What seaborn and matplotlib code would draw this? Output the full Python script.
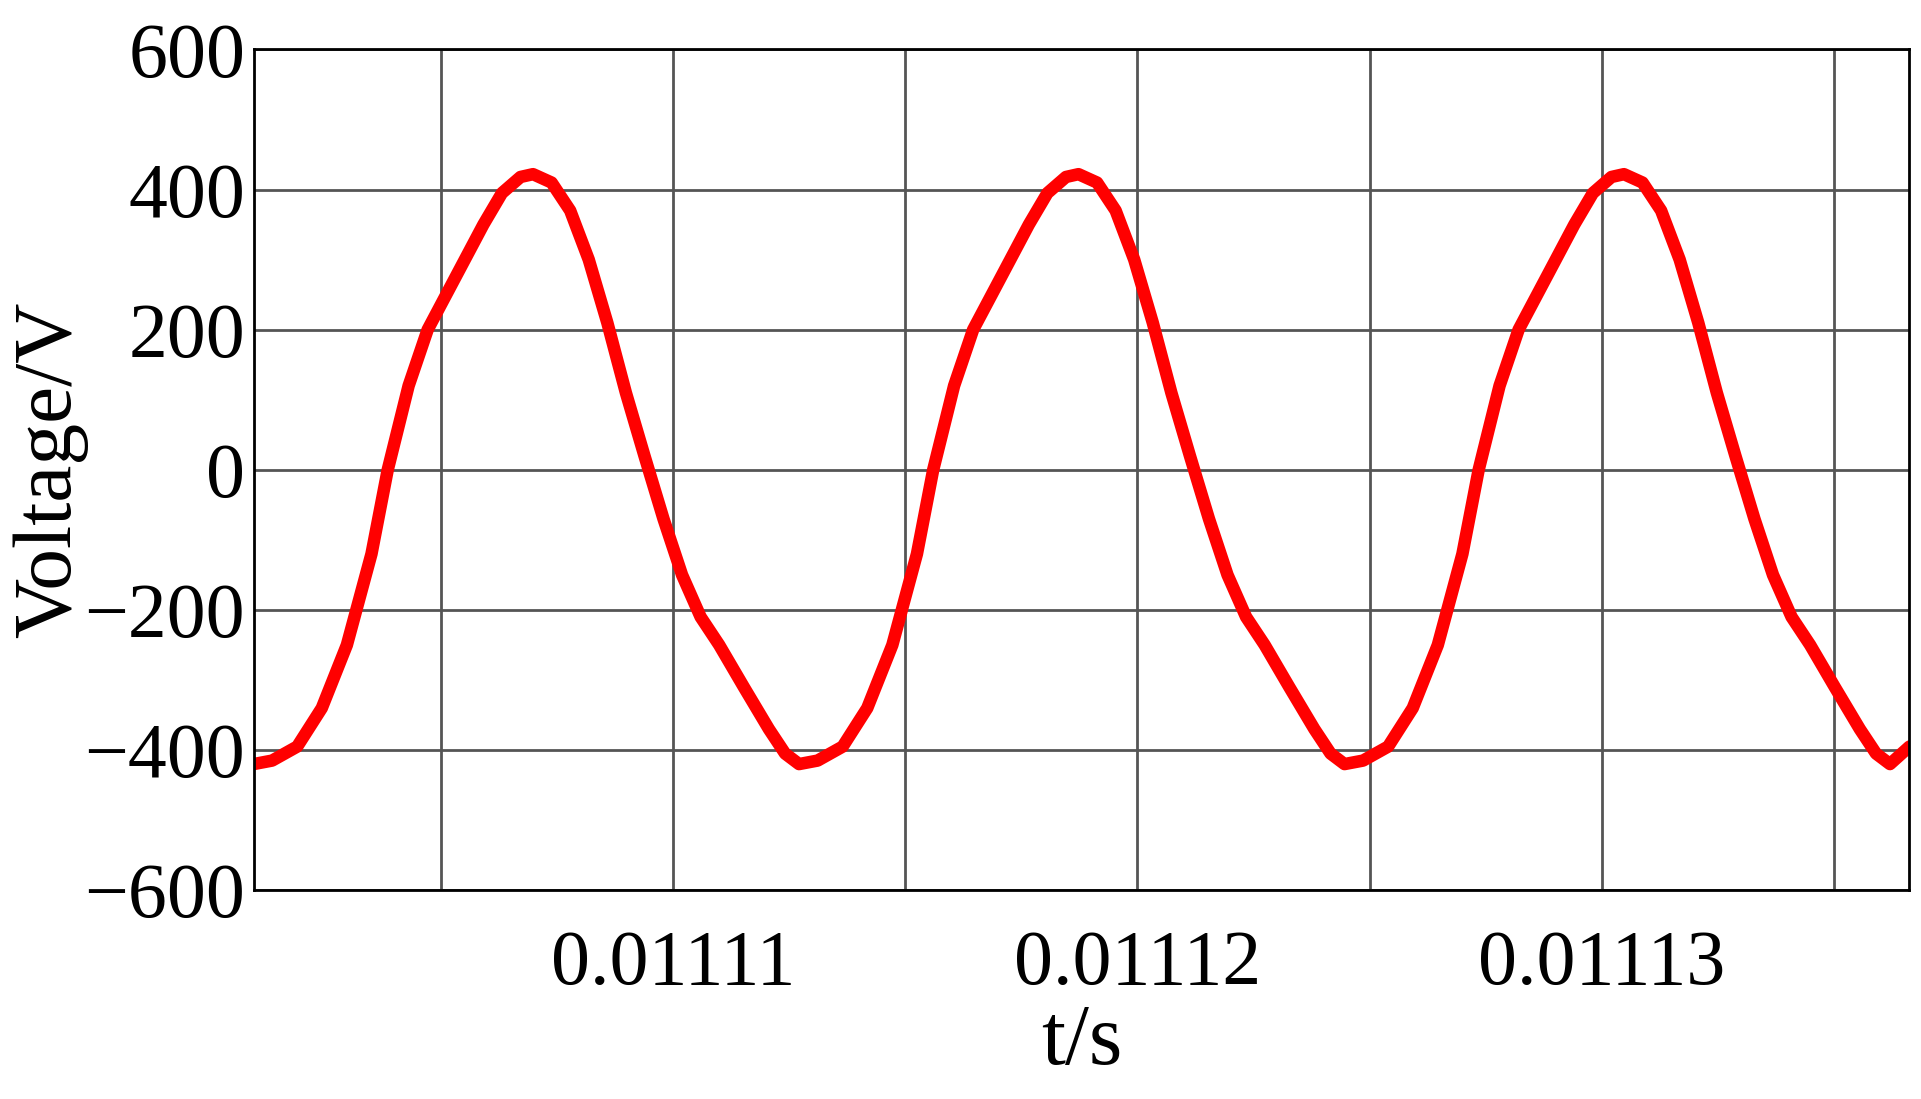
import numpy as np
import pandas as pd
import seaborn as sns
import matplotlib
matplotlib.use("Agg")
import matplotlib.pyplot as plt
from matplotlib.ticker import FixedLocator, FuncFormatter

# time, microseconds after 0.01111 s
t_us = [-9.04, -8.64, -8.10, -7.57, -7.03, -6.50, -6.15, -5.70, -5.29, -4.89, -4.49, -4.09, -3.69, -3.29,
        -3.02, -2.62, -2.22, -1.82, -1.42, -1.02, -0.62, -0.21, 0.19, 0.59, 0.99, 1.52, 2.06, 2.41,
        2.71, 3.11, 3.65, 4.18, 4.72, 5.25, 5.60, 6.05, 6.46, 6.86, 7.26, 7.66, 8.06, 8.46,
        8.73, 9.13, 9.53, 9.93, 10.33, 10.73, 11.13, 11.54, 11.94, 12.34, 12.74, 13.27, 13.81, 14.16,
        14.46, 14.86, 15.40, 15.93, 16.47, 17.00, 17.35, 17.80, 18.21, 18.61, 19.01, 19.41, 19.81, 20.21,
        20.48, 20.88, 21.28, 21.68, 22.08, 22.48, 22.88, 23.29, 23.69, 24.09, 24.49, 25.02, 25.56, 25.91,
        26.21, 26.63]
volts = [-420, -415, -395, -340, -250, -120, 0, 120, 200, 250, 300, 350, 395, 418,
         422, 410, 370, 300, 210, 110, 20, -70, -150, -210, -250, -310, -370, -405,
         -420, -415, -395, -340, -250, -120, 0, 120, 200, 250, 300, 350, 395, 418,
         422, 410, 370, 300, 210, 110, 20, -70, -150, -210, -250, -310, -370, -405,
         -420, -415, -395, -340, -250, -120, 0, 120, 200, 250, 300, 350, 395, 418,
         422, 410, 370, 300, 210, 110, 20, -70, -150, -210, -250, -310, -370, -405,
         -420, -395]

x_major = [0.01111, 0.01112, 0.01113]
x_minor = [0.011105, 0.011115, 0.011125, 0.011135]
y_ticks = [-600, -400, -200, 0, 200, 400, 600]

df = pd.DataFrame({"t": 0.01111 + np.array(t_us) * 1e-6, "v": volts})

sns.set_style("white")
plt.rcParams['font.family'] = ['Liberation Serif', 'DejaVu Serif']

fig = plt.figure(figsize=(19.21, 10.99), dpi=100)
ax = fig.add_axes([0.132, 0.19, 0.862, 0.765])
sns.lineplot(data=df, x="t", y="v", ax=ax, color="#ff0000", linewidth=9,
             solid_joinstyle="round", solid_capstyle="round")

ax.set_xlim(0.01111 - 9.04e-6, 0.01111 + 26.63e-6)
ax.set_ylim(-600, 600)
ax.xaxis.set_major_locator(FixedLocator(x_major))
ax.xaxis.set_minor_locator(FixedLocator(x_minor))
ax.xaxis.set_major_formatter(FuncFormatter(lambda x, p: f"{x:.5f}"))
ax.set_yticks(y_ticks)
ax.set_yticklabels([str(v).replace("-", "\u2212") for v in y_ticks])
ax.grid(True, which="both", color="#555555", linewidth=2)
ax.tick_params(axis="both", which="both", length=0, labelsize=56, labelcolor="black")
ax.tick_params(axis="x", pad=28)
ax.tick_params(axis="y", pad=6)
for s in ax.spines.values():
    s.set_color("black")
    s.set_linewidth(2)

ax.set_xlabel("t/s", fontsize=62, labelpad=2, color="black")
ax.set_ylabel("Voltage/V", fontsize=60, color="black")
ax.yaxis.set_label_coords(-0.1, 0.5)

fig.savefig("out.png", dpi=100)
